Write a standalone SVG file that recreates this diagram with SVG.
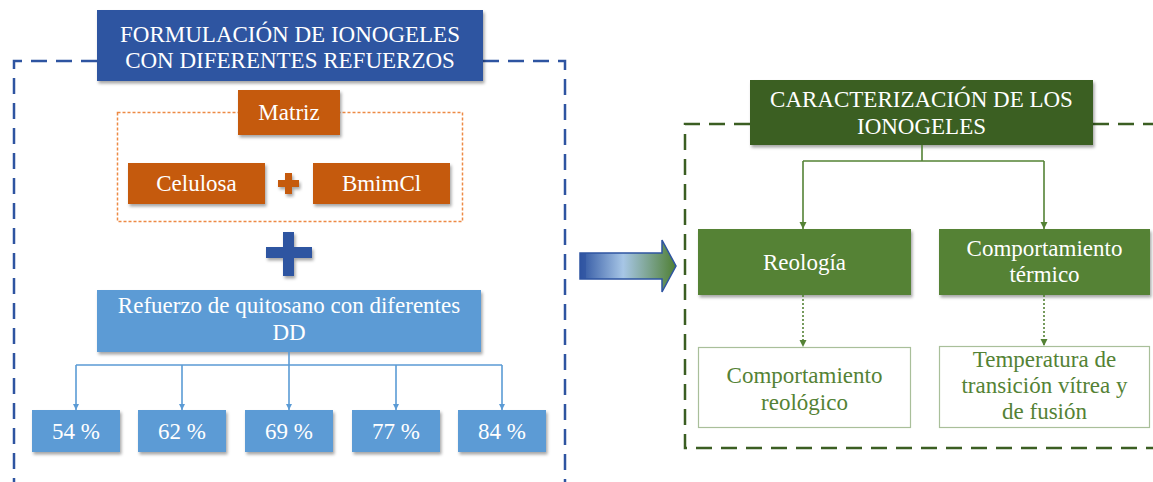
<svg xmlns="http://www.w3.org/2000/svg" width="1153" height="482" viewBox="0 0 1153 482">
<defs>
<filter id="sh" x="-10%" y="-10%" width="125%" height="130%">
<feDropShadow dx="1.5" dy="2.5" stdDeviation="1.5" flood-color="#000" flood-opacity="0.35"/>
</filter>
<linearGradient id="ag" x1="0" y1="0" x2="1" y2="0">
<stop offset="0" stop-color="#2E54A1"/>
<stop offset="0.45" stop-color="#A7C6E6"/>
<stop offset="1" stop-color="#4F7F33"/>
</linearGradient>
<marker id="ab" viewBox="0 0 10 10" refX="10" refY="5" markerWidth="4" markerHeight="4" orient="auto" markerUnits="strokeWidth">
<path d="M0,0 L10,5 L0,10 z" fill="#5B9BD5"/>
</marker>
<marker id="agm" viewBox="0 0 10 10" refX="10" refY="5" markerWidth="4.5" markerHeight="4.5" orient="auto" markerUnits="strokeWidth">
<path d="M0,0 L10,5 L0,10 z" fill="#548235"/>
</marker>
</defs>
<style>
text{font-family:"Liberation Serif","Times New Roman",serif;text-anchor:middle}
.w{fill:#fff}
.g{fill:#548235}
.t{font-size:23px}
.s{font-size:23px}
.blue{fill:#2E54A1}
.lb{fill:#5B9BD5}
.or{fill:#C55A11}
.dg{fill:#3B5E22}
.mg{fill:#548235}
</style>
<rect width="1153" height="482" fill="#fff"/>
<g id="frames" fill="none">
<path d="M97,61 H14 V482 M483,61 H565 V482" stroke="#2E54A1" stroke-width="2.5" stroke-dasharray="16,9"/>
<path d="M750,124 H685 V448 H1153 M1093,124 H1153" stroke="#3B5E22" stroke-width="2.5" stroke-dasharray="16,9"/>
<rect x="117.5" y="112.5" width="345" height="109" stroke="#ED8A45" stroke-width="1.5" stroke-dasharray="3,2"/>
</g>
<g id="title-left"><rect x="97" y="10" width="386" height="71" class="blue" filter="url(#sh)"/>
<text class="w t" x="290" y="42">FORMULACIÓN DE IONOGELES</text>
<text class="w t" x="290" y="68">CON DIFERENTES REFUERZOS</text></g>
<g id="matriz"><rect x="238" y="90" width="102" height="45" class="or" filter="url(#sh)"/>
<text class="w t" x="289" y="120">Matriz</text></g>
<g id="celulosa"><rect x="128" y="163" width="137" height="41" class="or" filter="url(#sh)"/>
<text class="w t" x="196.5" y="191">Celulosa</text></g>
<g id="plus-orange"><path d="M285,173 h7 v7 h7 v7 h-7 v7 h-7 v-7 h-7 v-7 h7 z" class="or" filter="url(#sh)"/></g>
<g id="bmimcl"><rect x="313" y="163" width="137" height="41" class="or" filter="url(#sh)"/>
<text class="w t" x="381.5" y="191">BmimCl</text></g>
<g id="plus-blue"><path d="M283,232 h11 v15 h18 v11 h-18 v18 h-11 v-18 h-17 v-11 h17 z" class="blue" filter="url(#sh)"/></g>
<g id="refuerzo"><rect x="97" y="290" width="384" height="62" class="lb" filter="url(#sh)"/>
<text class="w t" x="289" y="313">Refuerzo de quitosano con diferentes</text>
<text class="w t" x="289" y="340">DD</text></g>
<g id="p54"><rect x="32" y="410" width="88" height="42" class="lb" filter="url(#sh)"/><text class="w t" x="76" y="439">54 %</text></g>
<g id="p62"><rect x="138" y="410" width="88" height="42" class="lb" filter="url(#sh)"/><text class="w t" x="182" y="439">62 %</text></g>
<g id="p69"><rect x="245" y="410" width="88" height="42" class="lb" filter="url(#sh)"/><text class="w t" x="289" y="439">69 %</text></g>
<g id="p77"><rect x="352" y="410" width="88" height="42" class="lb" filter="url(#sh)"/><text class="w t" x="396" y="439">77 %</text></g>
<g id="p84"><rect x="458" y="410" width="88" height="42" class="lb" filter="url(#sh)"/><text class="w t" x="502" y="439">84 %</text></g>
<g id="big-arrow"><path d="M580,253 H662 V240 L676,266 L662,292 V279 H580 Z" fill="url(#ag)" stroke="#2E54A1" stroke-width="1.5"/>
<rect x="580" y="253" width="6" height="26" fill="#2E54A1" opacity="0.6"/></g>
<g id="title-right"><rect x="750" y="80" width="343" height="65" class="dg" filter="url(#sh)"/>
<text class="w t" x="921.5" y="107">CARACTERIZACIÓN DE LOS</text>
<text class="w t" x="921.5" y="134">IONOGELES</text></g>
<g id="reologia"><rect x="698" y="229" width="213" height="66" class="mg" filter="url(#sh)"/>
<text class="w t" x="804.5" y="270">Reología</text></g>
<g id="termico"><rect x="939" y="229" width="211" height="66" class="mg" filter="url(#sh)"/>
<text class="w t" x="1044.5" y="256">Comportamiento</text>
<text class="w t" x="1044.5" y="282">térmico</text></g>
<g id="reologico"><rect x="698.5" y="347.5" width="212" height="80" fill="#fff" stroke="#A9BF9A" stroke-width="1.2"/>
<text class="g s" x="804.5" y="383">Comportamiento</text>
<text class="g s" x="804.5" y="410">reológico</text></g>
<g id="temperatura"><rect x="939.5" y="346.5" width="210" height="81" fill="#fff" stroke="#A9BF9A" stroke-width="1.2"/>
<text class="g s" x="1044.5" y="367">Temperatura de</text>
<text class="g s" x="1044.5" y="393">transición vítrea y</text>
<text class="g s" x="1044.5" y="419">de fusión</text></g>
<g id="connectors" fill="none">
<g stroke="#5B9BD5" stroke-width="1.6">
<path d="M289,352 V365 M76,365 H502"/>
<path d="M76,365 V410" marker-end="url(#ab)"/>
<path d="M182,365 V410" marker-end="url(#ab)"/>
<path d="M289,365 V410" marker-end="url(#ab)"/>
<path d="M396,365 V410" marker-end="url(#ab)"/>
<path d="M502,365 V410" marker-end="url(#ab)"/>
</g>
<g stroke="#548235" stroke-width="1.6">
<path d="M922,145 V161 M803,161 H1044"/>
<path d="M803,161 V229" marker-end="url(#agm)"/>
<path d="M1044,161 V229" marker-end="url(#agm)"/>
<path d="M803,295 V347" stroke-dasharray="2,2" marker-end="url(#agm)"/>
<path d="M1044,295 V346" stroke-dasharray="2,2" marker-end="url(#agm)"/>
</g>
</g>
</svg>
